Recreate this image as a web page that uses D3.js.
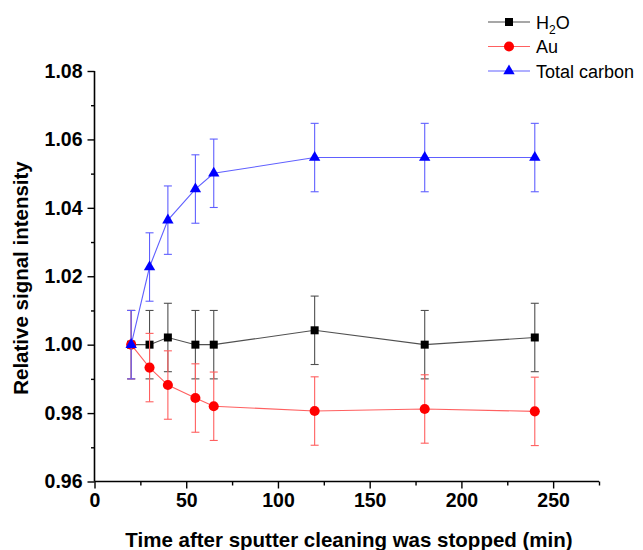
<!DOCTYPE html>
<html>
<head>
<meta charset="utf-8">
<script src="https://cdn.jsdelivr.net/npm/d3@7"></script>
<style>
  html, body { margin: 0; padding: 0; background: #fff; }
  svg { display: block; font-family: Arial, "Liberation Sans", sans-serif; }
</style>
</head>
<body>
<svg id="chart" width="643" height="550"></svg>
<script>
// Measurement times (min) and relative signal intensities
const times = [20, 30, 40, 55, 65, 120, 180, 240];
const h2oValues = [1.000, 1.000, 1.0021, 1.000, 1.000, 1.0042, 1.000, 1.0021];
const auValues = [1.000, 0.9933, 0.9882, 0.9844, 0.9820, 0.9806, 0.9812, 0.9805];
const carbonValues = [1.000, 1.0227, 1.0364, 1.0455, 1.0501, 1.0547, 1.0547, 1.0547];
const h2oErrors = [0.01, 0.01, 0.01, 0.01, 0.01, 0.01, 0.01, 0.01];
const auErrors = [0.01, 0.01, 0.01, 0.01, 0.01, 0.01, 0.01, 0.01];
const carbonErrors = [0.01, 0.01, 0.01, 0.01, 0.01, 0.01, 0.01, 0.01];

const xMajorTicks = [0, 50, 100, 150, 200, 250];
const xMinorTicks = [25, 75, 125, 175, 225, 275];
const yMajorTicks = [0.96, 0.98, 1.00, 1.02, 1.04, 1.06, 1.08];
const yMinorTicks = [0.97, 0.99, 1.01, 1.03, 1.05, 1.07];

const seriesNames = ["H\u2082O", "Au", "Total carbon"];
const seriesColors = ["#000000", "#ff0000", "#0000ff"];
const seriesLineColors = ["#505050", "#ff6060", "#6060ff"];

const series = [
  { name: seriesNames[0], values: h2oValues, errors: h2oErrors, color: seriesColors[0], lineColor: seriesLineColors[0], symbol: d3.symbolSquare, size: 64 },
  { name: seriesNames[1], values: auValues, errors: auErrors, color: seriesColors[1], lineColor: seriesLineColors[1], symbol: d3.symbolCircle, size: 80 },
  { name: seriesNames[2], values: carbonValues, errors: carbonErrors, color: seriesColors[2], lineColor: seriesLineColors[2], symbol: d3.symbolTriangle, size: 56 }
];

const svg = d3.select("#chart");
const x = d3.scaleLinear().domain([0, 275]).range([94.5, 599]);
const y = d3.scaleLinear().domain([0.96, 1.08]).range([481.5, 71]);

// Axes: major ticks labelled, minor ticks shorter
const axisG = svg.append("g");
const xAxis = axisG.append("g").attr("transform", `translate(0,${y(0.96)})`)
  .call(d3.axisBottom(x).tickValues(xMajorTicks).tickSize(7).tickPadding(5).tickFormat(d3.format("d")));
const xMinor = axisG.append("g").attr("transform", `translate(0,${y(0.96)})`)
  .call(d3.axisBottom(x).tickValues(xMinorTicks).tickSize(4).tickFormat(""));
const yAxis = axisG.append("g").attr("transform", `translate(${x(0)},0)`)
  .call(d3.axisLeft(y).tickValues(yMajorTicks).tickSize(7).tickPadding(5).tickFormat(d3.format(".2f")));
const yMinor = axisG.append("g").attr("transform", `translate(${x(0)},0)`)
  .call(d3.axisLeft(y).tickValues(yMinorTicks).tickSize(3.5).tickFormat(""));

[xAxis, xMinor, yAxis, yMinor].forEach(g => {
  g.select(".domain").attr("stroke", "#000").attr("stroke-width", 1.6);
  g.selectAll(".tick line").attr("stroke", "#000").attr("stroke-width", 1.4);
  g.selectAll(".tick text").attr("fill", "#000").attr("font-size", 19.5).attr("font-weight", "bold")
    .attr("font-family", "Arial, 'Liberation Sans', sans-serif");
});
xMinor.select(".domain").remove();
yMinor.select(".domain").remove();
xAxis.select(".domain").attr("d", `M${x(0)},0H${x(275)}`);
yAxis.select(".domain").attr("d", `M0,${y(0.96)}V${y(1.08)}`);

// Axis titles
svg.append("text")
  .attr("x", 349).attr("y", 547)
  .attr("text-anchor", "middle")
  .attr("font-size", 20.5).attr("font-weight", "bold")
  .text("Time after sputter cleaning was stopped (min)");

svg.append("text")
  .attr("transform", "translate(28,278) rotate(-90)")
  .attr("text-anchor", "middle")
  .attr("font-size", 20.5).attr("font-weight", "bold")
  .text("Relative signal intensity");

// Series: connecting lines, error bars, markers
const line = d3.line().x((d, i) => x(times[i])).y(d => y(d));
const capHalf = 4;

series.forEach(s => {
  const g = svg.append("g");
  g.append("path")
    .attr("d", line(s.values))
    .attr("fill", "none")
    .attr("stroke", s.lineColor)
    .attr("stroke-width", 1.1);

  const eb = g.selectAll(".eb").data(s.values).enter().append("g");
  eb.append("line")
    .attr("x1", (d, i) => x(times[i])).attr("x2", (d, i) => x(times[i]))
    .attr("y1", (d, i) => y(d + s.errors[i])).attr("y2", (d, i) => y(d - s.errors[i]));
  eb.append("line")
    .attr("x1", (d, i) => x(times[i]) - capHalf).attr("x2", (d, i) => x(times[i]) + capHalf)
    .attr("y1", (d, i) => y(d + s.errors[i])).attr("y2", (d, i) => y(d + s.errors[i]));
  eb.append("line")
    .attr("x1", (d, i) => x(times[i]) - capHalf).attr("x2", (d, i) => x(times[i]) + capHalf)
    .attr("y1", (d, i) => y(d - s.errors[i])).attr("y2", (d, i) => y(d - s.errors[i]));
  eb.selectAll("line")
    .attr("stroke", s.lineColor).attr("stroke-width", 1.1);

  g.selectAll(".pt").data(s.values).enter().append("path")
    .attr("transform", (d, i) => `translate(${x(times[i])},${y(d)})`)
    .attr("d", d3.symbol().type(s.symbol).size(s.size))
    .attr("fill", s.color);
});

// Legend
const legendRows = [22, 46.5, 71];
series.forEach((s, i) => {
  const g = svg.append("g").attr("transform", `translate(0,${legendRows[i]})`);
  g.append("line").attr("x1", 488).attr("x2", 530).attr("y1", 0).attr("y2", 0)
    .attr("stroke", s.lineColor).attr("stroke-width", 1.1);
  g.append("path").attr("transform", "translate(509,0)")
    .attr("d", d3.symbol().type(s.symbol).size(s.size)).attr("fill", s.color);
  const t = g.append("text").attr("x", 536).attr("y", 6.5).attr("font-size", 18).attr("fill", "#000");
  if (i === 0) {
    t.append("tspan").text("H");
    t.append("tspan").attr("font-size", 12).attr("dy", 5).text("2");
    t.append("tspan").attr("dy", -5).text("O");
  } else {
    t.text(s.name);
  }
});
</script>
</body>
</html>
